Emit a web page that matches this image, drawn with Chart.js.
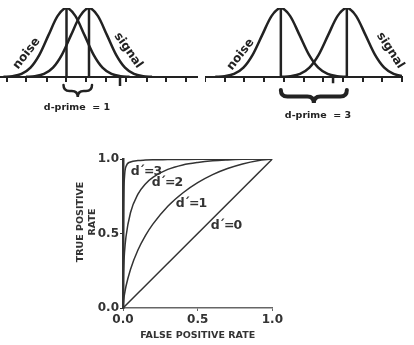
<!DOCTYPE html>
<html lang="en">
<head>
<meta charset="UTF-8">
<title>d-prime and ROC curves</title>
<script src="https://cdn.jsdelivr.net/npm/chart.js"></script>
<style>
  body { margin: 0; background: #fff; font-family: "DejaVu Sans", sans-serif; }
  #wrap { position: relative; width: 414px; height: 345px; overflow: hidden; }
  .box { position: absolute; }
  .lbl { position: absolute; font-weight: bold; color: #222; white-space: pre; line-height: 1; transform: translate(-50%, -50%); }
  .dl { font-size: 12.5px; letter-spacing: -1px; color: #333; }
</style>
</head>
<body>
<div id="wrap">
  <div class="box" style="left:0;top:0;width:200px;height:110px"><canvas id="distLeft"></canvas></div>
  <div class="box" style="left:205px;top:0;width:200px;height:110px"><canvas id="distRight"></canvas></div>
  <div class="box" style="left:70px;top:145px;width:215px;height:200px"><canvas id="roc"></canvas></div>

  <div class="lbl" style="left:26px;top:53px;font-size:12px;transform:translate(-50%,-50%) rotate(-52deg)">noise</div>
  <div class="lbl" style="left:129px;top:50px;font-size:12px;transform:translate(-50%,-50%) rotate(55deg)">signal</div>
  <div class="lbl" style="left:240px;top:54px;font-size:12px;transform:translate(-50%,-50%) rotate(-52deg)">noise</div>
  <div class="lbl" style="left:391px;top:50px;font-size:12px;transform:translate(-50%,-50%) rotate(57deg)">signal</div>
  <div class="lbl" style="left:77px;top:107px;font-size:9.5px">d-prime  = 1</div>
  <div class="lbl" style="left:318px;top:115px;font-size:9.5px">d-prime  = 3</div>

  <div class="lbl dl" style="left:146px;top:171px">d´=3</div>
  <div class="lbl dl" style="left:167px;top:182px">d´=2</div>
  <div class="lbl dl" style="left:191px;top:203px">d´=1</div>
  <div class="lbl dl" style="left:226px;top:225px">d´=0</div>
  <div class="lbl" style="left:86px;top:222px;font-size:9.5px;line-height:12px;text-align:center;color:#333;transform:translate(-50%,-50%) rotate(-90deg)">TRUE POSITIVE
RATE</div>
</div>

<script>
// bell shape heights, sampled every half standard deviation
const curveHeights = [0.0022, 0.0111, 0.0439, 0.1353, 0.3247, 0.6065, 0.8825, 1, 0.8825, 0.6065, 0.3247, 0.1353, 0.0439, 0.0111, 0.0022];

// left panel (d' = 1), x in tick units
const noiseX1  = [-3.15, -2.7, -2.25, -1.8, -1.35, -0.9, -0.45, 0, 0.45, 0.9, 1.35, 1.8, 2.25, 2.7, 3.15];
const signalX1 = [-2.025, -1.575, -1.125, -0.675, -0.225, 0.225, 0.675, 1.125, 1.575, 2.025, 2.475, 2.925, 3.375, 3.825, 4.275];
const means1 = [0, 1.125];
const criterion1 = 2.675;

// right panel (d' = 3)
const noiseX2  = [-3.325, -2.85, -2.375, -1.9, -1.425, -0.95, -0.475, 0, 0.475, 0.95, 1.425, 1.9, 2.375, 2.85, 3.325];
const signalX2 = [0.025, 0.5, 0.975, 1.45, 1.925, 2.4, 2.875, 3.35, 3.825, 4.3, 4.775, 5.25, 5.725, 6.2, 6.675];
const means2 = [0, 3.35];
const criterion2 = 2.65;

// ROC curves
const fpr  = [0, 0.001, 0.005, 0.01, 0.02, 0.05, 0.1, 0.15, 0.2, 0.3, 0.4, 0.5, 0.6, 0.7, 0.8, 0.9, 1];
const tpr1 = [0, 0.018, 0.058, 0.092, 0.146, 0.259, 0.389, 0.486, 0.563, 0.683, 0.772, 0.841, 0.895, 0.936, 0.967, 0.989, 1];
const tpr2 = [0, 0.138, 0.282, 0.372, 0.478, 0.639, 0.764, 0.833, 0.877, 0.930, 0.960, 0.977, 0.988, 0.994, 0.998, 0.9997, 1];
const tpr3 = [0, 0.35, 0.75, 0.88, 0.95, 0.98, 0.99, 0.993, 0.995, 0.996, 0.997, 0.998, 0.998, 0.999, 0.999, 1, 1];
const diagX = [0, 1];
const diagY = [0, 1];

Chart.defaults.font.family = "'DejaVu Sans', sans-serif";

const ink = '#222';

// curly brace under the two means
const bracePlugin = {
    id: 'brace',
    afterDraw(chart, args, opts) {
        const sx = chart.scales.x, ctx = chart.ctx;
        const xa = sx.getPixelForValue(opts.from) - opts.extend;
        const xb = sx.getPixelForValue(opts.to) + opts.extend;
        const xm = (xa + xb) / 2;
        const y0 = chart.chartArea.bottom + opts.gap;
        const h = opts.depth, ym = y0 + h / 2, q = h / 2;
        ctx.save();
        ctx.strokeStyle = ink;
        ctx.lineWidth = opts.width;
        ctx.lineCap = 'round';
        ctx.beginPath();
        ctx.moveTo(xa, y0);
        ctx.quadraticCurveTo(xa, ym, xa + q, ym);
        ctx.lineTo(xm - q, ym);
        ctx.quadraticCurveTo(xm, ym, xm, y0 + h);
        ctx.quadraticCurveTo(xm, ym, xm + q, ym);
        ctx.lineTo(xb - q, ym);
        ctx.quadraticCurveTo(xb, ym, xb, y0);
        ctx.stroke();
        ctx.restore();
    }
};

function line(points, extra) {
    return Object.assign({
        data: points,
        showLine: true,
        borderColor: ink,
        borderWidth: 2.5,
        pointRadius: 0
    }, extra || {});
}

function distChart(id, noiseX, signalX, means, criterion, critDepth, xMin, xMax, brace) {
    const curve = xs => xs.map((x, i) => ({ x: x, y: curveHeights[i] }));
    return new Chart(document.getElementById(id), {
        type: 'scatter',
        data: {
            datasets: [
                line(curve(noiseX), { cubicInterpolationMode: 'monotone' }),
                line(curve(signalX), { cubicInterpolationMode: 'monotone' }),
                line([{ x: means[0], y: 0 }, { x: means[0], y: 1 }]),
                line([{ x: means[1], y: 0 }, { x: means[1], y: 1 }]),
                line([{ x: criterion, y: 0 }, { x: criterion, y: -critDepth }], { clip: false })
            ]
        },
        plugins: [bracePlugin],
        options: {
            animation: false,
            responsive: true,
            maintainAspectRatio: false,
            layout: { padding: { top: 8, right: 3, bottom: 28, left: 0 } },
            plugins: {
                legend: { display: false },
                tooltip: { enabled: false },
                brace: brace
            },
            scales: {
                x: {
                    type: 'linear',
                    min: xMin,
                    max: xMax,
                    ticks: { display: false, stepSize: 1, includeBounds: false },
                    grid: { drawOnChartArea: false, tickLength: 5, color: ink, lineWidth: 2 },
                    border: { color: ink, width: 2 }
                },
                y: { display: false, min: 0, max: 1 }
            }
        }
    });
}

distChart('distLeft', noiseX1, signalX1, means1, criterion1, 0.13, -3.325, 6.525,
    { from: means1[0], to: means1[1], extend: 3, gap: 8, depth: 12, width: 2.5 });
distChart('distRight', noiseX2, signalX2, means2, criterion2, 0.09, -3.85, 6.15,
    { from: means2[0], to: means2[1], extend: 0, gap: 13, depth: 13, width: 4 });

const toPoints = (xs, ys) => xs.map((x, i) => ({ x: x, y: ys[i] }));
const rocStyle = { borderColor: '#333', borderWidth: 1.5, cubicInterpolationMode: 'monotone' };
const tickFont = { family: "'DejaVu Sans', sans-serif", weight: 'bold', size: 12 };

new Chart(document.getElementById('roc'), {
    type: 'scatter',
    data: {
        datasets: [
            line(toPoints(diagX, diagY), rocStyle),
            line(toPoints(fpr, tpr1), rocStyle),
            line(toPoints(fpr, tpr2), rocStyle),
            line(toPoints(fpr, tpr3), rocStyle)
        ]
    },
    options: {
        animation: false,
        responsive: true,
        maintainAspectRatio: false,
        layout: { padding: { top: 14, right: 12, bottom: 0, left: 0 } },
        plugins: { legend: { display: false }, tooltip: { enabled: false } },
        scales: {
            x: {
                min: 0, max: 1,
                ticks: { stepSize: 0.5, color: '#333', font: tickFont, padding: 2, maxRotation: 0,
                         callback: v => v.toFixed(1) },
                grid: { drawOnChartArea: false, tickLength: 3, color: '#666' },
                border: { color: '#666', width: 1.5 },
                title: { display: true, text: 'FALSE POSITIVE RATE', color: '#333',
                         font: { family: "'DejaVu Sans', sans-serif", weight: 'bold', size: 9.5 },
                         padding: { top: 0, bottom: 4 } },
                afterFit: s => { s.height = 37; }
            },
            y: {
                min: 0, max: 1,
                ticks: { stepSize: 0.5, color: '#333', font: tickFont, padding: 1,
                         callback: v => v.toFixed(1) },
                grid: { drawOnChartArea: false, tickLength: 3, color: '#333' },
                border: { color: '#333', width: 2.5 },
                afterFit: s => { s.width = 53; }
            }
        }
    }
});
</script>
</body>
</html>
